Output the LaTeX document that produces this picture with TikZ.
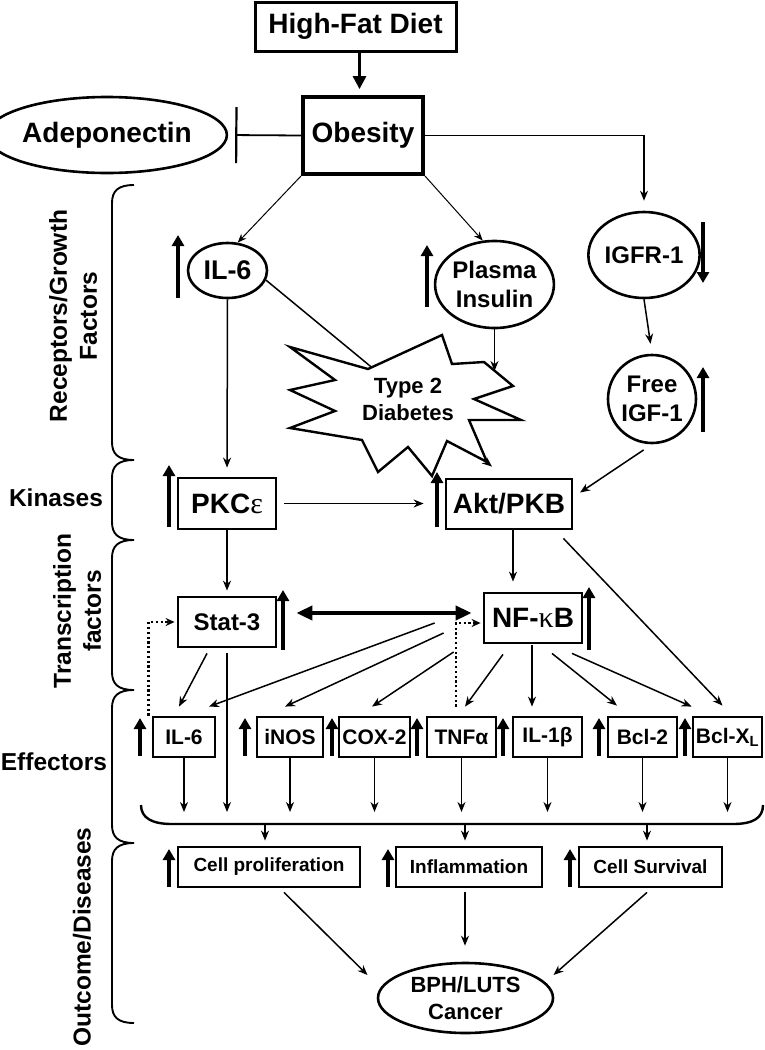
\documentclass[tikz,border=0pt]{standalone}
\usepackage{fontspec}
\setmainfont{Liberation Sans}
\newfontfamily\greekfont{Liberation Serif}
\usetikzlibrary{shapes.geometric,arrows.meta,calc}
\newcommand\setfs[2]{\fontsize{#1}{#2}\selectfont}
\begin{document}
\begin{tikzpicture}[x=1pt,y=-1pt,
  box/.style={draw, rectangle, line width=2.8pt, inner sep=0pt, align=center, font=\bfseries\setfs{28}{30}},
  ell/.style={draw, ellipse, line width=2.6pt, inner sep=0pt, align=center},
  eff/.style={draw, rectangle, line width=2.8pt, inner sep=0pt, minimum height=40pt, font=\bfseries\setfs{21}{24}},
  outc/.style={draw, rectangle, line width=2.8pt, inner sep=0pt, minimum height=40pt, font=\bfseries\setfs{19}{22}},
  arr/.style={line width=1.5pt, -{Stealth[length=10pt,width=8pt]}},
  lightarr/.style={line width=1pt, -{Stealth[length=9pt,width=7pt]}},
  uparr/.style={line width=4.5pt, -{Triangle[length=11pt,width=12pt]}},
  dots/.style={line width=2.8pt, dash pattern=on 2.2pt off 2.6pt, -{Stealth[length=9pt,width=8pt]}},
  lbl/.style={font=\bfseries\setfs{24.5}{30}, align=center, inner sep=0pt}
]
\useasboundingbox (0,0) rectangle (764,1050);

% ---- top ----
\node[box, line width=3pt, minimum width=201pt, minimum height=49pt] (hfd) at (355.5,26.5) {High-Fat Diet};
\node[box, line width=3.8pt, minimum width=120pt, minimum height=77pt] (ob) at (363,135.5) {Obesity};
\node[ell, minimum width=202pt, minimum height=76pt, font=\bfseries\setfs{28}{30}] (adp) at (107,135) {Adeponectin};

\draw[line width=3pt, -{Triangle[length=13pt,width=13pt]}, shorten >=6pt] ([xshift=4pt]hfd.south) -- ([xshift=4pt]hfd.south |- ob.north);
\draw[line width=1.8pt, -{Bar[width=56pt, line width=2.2pt]}, shorten >=7pt] (ob.west) -- (adp.east);

% ---- receptors / growth factors ----
\node[ell, minimum width=79pt, minimum height=55pt, font=\bfseries\setfs{27}{30}] (il6) at (227.5,270.5) {IL-6};
\node[ell, minimum width=117pt, minimum height=87pt, font=\bfseries\setfs{24}{29}] (pi) at (494.5,284.5) {Plasma\\Insulin};
\node[ell, minimum width=102pt, minimum height=86pt, font=\bfseries\setfs{24}{29}] (igfr) at (644,255) {IGFR-1};
\node[ell, minimum width=88pt, minimum height=88pt, font=\bfseries\setfs{24}{29}] (figf) at (652,399) {Free\\IGF-1};

\draw[arr, shorten >=10pt] (ob.east) -| (igfr.north);
\draw[lightarr] (ob.south west) -- (il6.70);
\draw[lightarr] (ob.south east) -- (pi.105);

% kinases
\node[box, minimum width=98pt, minimum height=51pt] (pkc) at (227,503.5) {PKC{\greekfont\mdseries\setfs{30}{30}ε}};
\node[box, minimum width=126pt, minimum height=50pt] (akt) at (509,504) {Akt/PKB};

% IL-6 to Akt (passes behind the star)
\draw[arr] (il6.-14) -- ([xshift=-17pt,yshift=11pt]akt.north);

% Type 2 Diabetes star
\draw[line width=2.4pt, fill=white, line join=miter]
  (290,347) -- (368,369) -- (442,335) -- (452,364) -- (484,362) -- (513,386) -- (474,399) --
  (521,420) -- (469,420) -- (487,462) -- (447,441) -- (432,476) -- (408,447) -- (378,472) --
  (362,440) -- (290,428) -- (335,411) -- (290,390) -- (335,380) -- cycle;
\node[font=\bfseries\setfs{22}{27}, align=center, inner sep=0pt] (t2d) at (408,399) {Type 2\\Diabetes};
\coordinate (t2dtop) at (494.5,371);
\draw[arr] (pi.south) -- (t2dtop);

\draw[arr, shorten >=9pt] (il6.south) -- (pkc.north);
\draw[arr, shorten >=10pt] (igfr.south) -- (figf.north);
\draw[arr, shorten <=10pt, shorten >=8pt] (figf.south) -- ([yshift=7pt]akt.east);
\draw[arr, shorten <=7pt, shorten >=21pt] (pkc.east) -- (pkc.east -| akt.west);

% transcription factors
\node[box, minimum width=98pt, minimum height=50pt, font=\bfseries\setfs{24}{28}] (stat) at (227,622) {Stat-3};
\node[box, minimum width=98pt, minimum height=50pt] (nfkb) at (533,618) {NF-{\greekfont\mdseries\setfs{30}{30}κ}B};

\draw[arr, shorten >=5pt] (pkc.south) -- (stat.north);
\draw[arr, shorten >=10pt] ([xshift=4pt]akt.south) -- ([xshift=4pt]akt.south |- nfkb.north);
\draw[line width=4pt, {Triangle[length=16pt,width=14pt]}-{Triangle[length=16pt,width=14pt]}, shorten <=19pt, shorten >=11pt]
  ([yshift=9pt]stat.east) -- ([yshift=9pt]stat.east -| nfkb.west);

% effectors
\node[eff, minimum width=62pt] (e1) at (184,737) {IL-6};
\node[eff, minimum width=66pt] (e2) at (290,737) {iNOS};
\node[eff, minimum width=71pt] (e3) at (374.5,737) {COX-2};
\node[eff, minimum width=69pt] (e4) at (461.5,737) {TNFα};
\node[eff, minimum width=69pt] (e5) at (547.5,737) {IL-1β};
\node[eff, minimum width=69pt] (e6) at (642.5,737) {Bcl-2};
\node[eff, minimum width=69pt] (e7) at (727.5,737) {Bcl-X\textsubscript{L}};

\draw[arr] ([xshift=-10pt,yshift=-8pt]akt.south east) -- ([xshift=-5pt,yshift=10pt]e7.north);
\draw[arr] ([xshift=-20pt,yshift=-5pt]stat.south) -- ([xshift=-5pt,yshift=9pt]e1.north);
\draw[arr] ([xshift=-48pt,yshift=-5pt]nfkb.west) -- ([xshift=25pt,yshift=9pt]e1.north);
\draw[arr] ([xshift=-39pt,yshift=-15pt]nfkb.west) -- ([xshift=-5pt,yshift=9pt]e2.north);
\draw[arr] ([xshift=-29pt,yshift=-34pt]nfkb.west) -- ([xshift=-2.5pt,yshift=9pt]e3.north);
\draw[arr] ([xshift=-30pt,yshift=-10pt]nfkb.south) -- ([xshift=3.5pt,yshift=9pt]e4.north);
\draw[arr, shorten <=1pt, shorten >=9pt] ([xshift=-1pt]nfkb.south) -- ([xshift=-1pt]nfkb.south |- e5.north);
\draw[arr] ([xshift=19pt,yshift=-9pt]nfkb.south) -- ([xshift=-25.5pt,yshift=10pt]e6.north);
\draw[arr] ([xshift=39pt,yshift=-9pt]nfkb.south) -- ([yshift=9pt]e7.north west);

\draw[dots, shorten >=2pt] ([xshift=-3pt]e1.north west) |- (stat.west);
\draw[dots, shorten >=2pt] ([xshift=-5.5pt,yshift=9pt]e4.north) |- ([yshift=-5pt]nfkb.west);

% effectors to brace
\coordinate (bl) at (0,812);
\coordinate (bb) at (0,824);
\draw[arr, shorten <=5pt] (stat.south) -- (stat.south |- bl);
\foreach \e in {e1,e2,e3,e4,e5,e6,e7}
  \draw[arr] (\e.south) -- (\e.south |- bl);
\draw[line width=2.4pt] (141,805) .. controls (141,818) and (152,824) .. (172,824) -- (733,824) .. controls (753,824) and (763,818) .. (763,805);

% outcomes
\node[outc, minimum width=182pt] (o1) at (269,867) {Cell proliferation};
\node[outc, minimum width=146pt] (o2) at (469,867) {Inflammation};
\node[outc, minimum width=143pt] (o3) at (650.5,867) {Cell Survival};
\foreach \o/\dx in {o1/-4,o2/-4,o3/-3.5}
  \draw[arr, shorten >=5pt] ([xshift=\dx pt]\o.north |- bb) -- ([xshift=\dx pt]\o.north);

\node[ell, minimum width=175pt, minimum height=70pt, font=\bfseries\setfs{22}{27}] (bph) at (465.5,998) {BPH/LUTS\\Cancer};
\draw[arr] ([xshift=15pt,yshift=-4pt]o1.south) -- ([xshift=-98pt,yshift=23pt]bph.center);
\draw[arr, shorten <=4pt, shorten >=16pt] ([xshift=-4pt]o2.south) -- ([xshift=-4pt]o2.south |- bph.north);
\draw[arr] ([xshift=-3.5pt,yshift=-4pt]o3.south) -- ([xshift=88pt,yshift=23pt]bph.center);

% increase / decrease indicators
\foreach \x/\a/\b in {178/298/235, 427/307/245, 703/432/367, 169/527/465, 437/527/472, 283/650/590, 589/650/587,
  140/756/718, 245/756/718, 332/756/718, 417/756/718, 503/756/718, 599/756/718, 685/756/718,
  169/887/849, 388/887/849, 570/887/849}
  \draw[uparr] (\x,\a) -- (\x,\b);
\draw[uparr] (703,222) -- (703,283);

% side braces and labels
\foreach \a/\b in {185/460, 460/540, 540/690, 690/843, 843/1023}
  \draw[line width=1.9pt] (134,\a) .. controls (118,\a) and (112,\a+6) .. (112,\a+18) -- (112,\b-18) .. controls (112,\b-6) and (118,\b) .. (134,\b);
\node[lbl, rotate=90] (lrec) at (73,316) {Receptors/Growth\\Factors};
\node[lbl] (lkin) at (56,498) {Kinases};
\node[lbl, rotate=90] (ltf) at (77,611) {Transcription\\factors};
\node[lbl] (leff) at (54,762) {Effectors};
\node[lbl, rotate=90] (lout) at (82,937) {Outcome/Diseases};
\end{tikzpicture}
\end{document}
